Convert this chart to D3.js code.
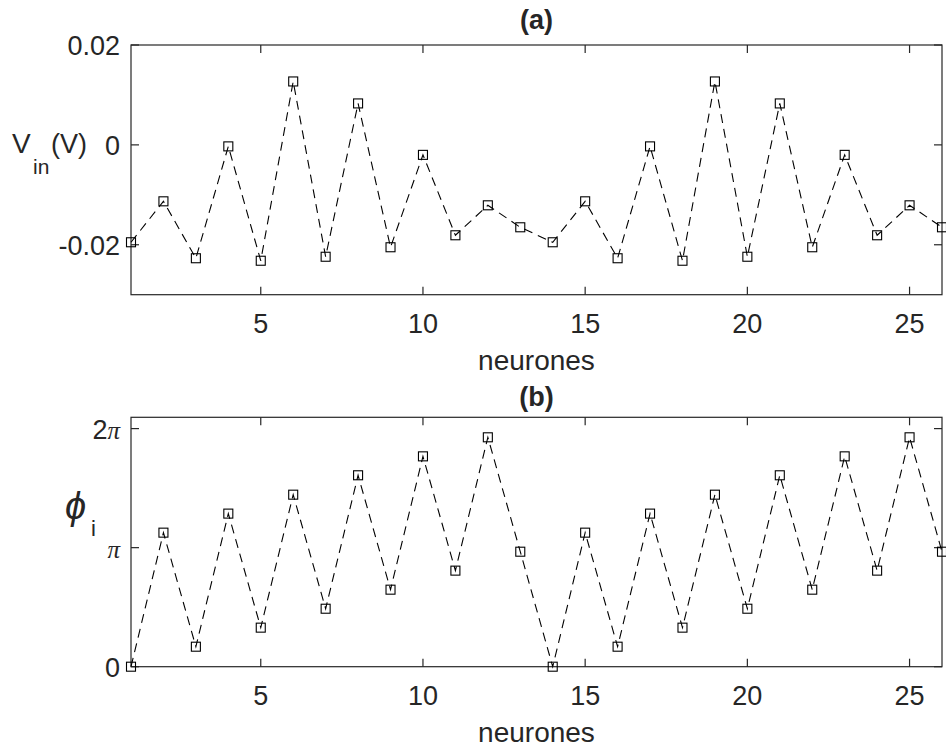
<!DOCTYPE html>
<html>
<head>
<meta charset="utf-8">
<script src="https://cdn.jsdelivr.net/npm/d3@7"></script>
<style>
  html, body { margin: 0; padding: 0; background: #fff; }
  svg { display: block; }
  text { font-family: "Liberation Sans", Arial, sans-serif; fill: #262626; }
</style>
</head>
<body>
<svg id="chart" width="946" height="748"></svg>
<script>
// ---- data ----
const neurons = [1,2,3,4,5,6,7,8,9,10,11,12,13,14,15,16,17,18,19,20,21,22,23,24,25,26];
const vin = [-0.0195,-0.0113,-0.0227,-0.0003,-0.0232,0.0127,-0.0224,0.0083,-0.0205,-0.0020,-0.0181,-0.0121,-0.0165,
             -0.0195,-0.0113,-0.0227,-0.0003,-0.0232,0.0127,-0.0224,0.0083,-0.0205,-0.0020,-0.0181,-0.0121,-0.0165];
// phases in units of pi
const phiPi = [0.00,1.126,0.168,1.286,0.328,1.445,0.487,1.608,0.647,1.767,0.807,1.927,0.966,
               0.00,1.126,0.168,1.286,0.328,1.445,0.487,1.608,0.647,1.767,0.807,1.927,0.966];
const xTicks = [5,10,15,20,25];
const vinTicks = [-0.02,0,0.02];
const vinTickLabels = ["-0.02","0","0.02"];
const phiTicks = [0,1,2];
const phiTickLabels = [["0",""],["","π"],["2","π"]];
const titles = ["(a)","(b)"];
const xLabel = "neurones";

// ---- layout ----
const svg = d3.select("#chart");
const L = 131, R = 942;
const panels = [
  {top: 45, bottom: 294.7, domain: [-0.03, 0.02], vals: vin, titleY: 29},
  {top: 417.3, bottom: 666.7, domain: [0, 2.095], vals: phiPi, titleY: 405.5}
];
const axisColor = "#262626";
const tickLen = 8;
const fs = 27;

const x = d3.scaleLinear().domain([1, 26]).range([L, R]);

panels.forEach((p, pi) => {
  const y = d3.scaleLinear().domain(p.domain).range([p.bottom, p.top]);
  const g = svg.append("g");

  // box
  g.append("rect").attr("x", L).attr("y", p.top).attr("width", R - L).attr("height", p.bottom - p.top)
    .attr("fill", "none").attr("stroke", axisColor).attr("stroke-width", 1.2);

  // x ticks (bottom and top, inward)
  xTicks.forEach(t => {
    g.append("line").attr("x1", x(t)).attr("x2", x(t)).attr("y1", p.bottom).attr("y2", p.bottom - tickLen)
      .attr("stroke", axisColor).attr("stroke-width", 1.2);
    g.append("line").attr("x1", x(t)).attr("x2", x(t)).attr("y1", p.top).attr("y2", p.top + tickLen)
      .attr("stroke", axisColor).attr("stroke-width", 1.2);
    g.append("text").attr("x", x(t)).attr("y", p.bottom + 38).attr("text-anchor", "middle")
      .attr("font-size", fs).text(t);
  });

  // y ticks
  const yt = pi === 0 ? vinTicks : phiTicks;
  yt.forEach((t, i) => {
    g.append("line").attr("x1", L).attr("x2", L + tickLen).attr("y1", y(t)).attr("y2", y(t))
      .attr("stroke", axisColor).attr("stroke-width", 1.2);
    g.append("line").attr("x1", R).attr("x2", R - tickLen).attr("y1", y(t)).attr("y2", y(t))
      .attr("stroke", axisColor).attr("stroke-width", 1.2);
    const tx = g.append("text").attr("x", 120).attr("y", y(t) + 10).attr("text-anchor", "end")
      .attr("font-size", fs);
    if (pi === 0) {
      tx.text(vinTickLabels[i]);
    } else {
      const lab = phiTickLabels[i];
      if (lab[0]) tx.append("tspan").text(lab[0]);
      if (lab[1]) tx.append("tspan").attr("font-family", "'Liberation Serif', serif")
        .attr("font-style", "italic").attr("font-size", 25).text(lab[1]);
    }
  });

  // title
  g.append("text").attr("x", (L + R) / 2).attr("y", p.titleY).attr("text-anchor", "middle")
    .attr("font-size", 27).attr("font-weight", "bold").attr("fill", "#000").text(titles[pi]);

  // x label
  g.append("text").attr("x", (L + R) / 2).attr("y", p.bottom + 75).attr("text-anchor", "middle")
    .attr("font-size", 28).text(xLabel);

  // data line
  const line = d3.line().x((d, i) => x(neurons[i])).y(d => y(d));
  g.append("path").datum(p.vals).attr("d", line).attr("fill", "none")
    .attr("stroke", "#000").attr("stroke-width", 1.1).attr("stroke-dasharray", "9,6");

  // markers
  g.selectAll("rect.m").data(p.vals).enter().append("rect").attr("class", "m")
    .attr("x", (d, i) => x(neurons[i]) - 4.5).attr("y", d => y(d) - 4.5)
    .attr("width", 9).attr("height", 9).attr("fill", "none")
    .attr("stroke", "#000").attr("stroke-width", 1.1);
});

// y labels
svg.append("text").attr("x", 12).attr("y", 152.7).attr("font-size", 28).text("V");
svg.append("text").attr("x", 33).attr("y", 174).attr("font-size", 21).text("in");
svg.append("text").attr("x", 51).attr("y", 152.7).attr("font-size", 27).text("(V)");

svg.append("text").attr("x", 65).attr("y", 519).attr("font-size", 38)
  .attr("font-family", "'Liberation Serif', serif").attr("font-style", "italic").attr("fill", "#404040").text("ϕ");
svg.append("text").attr("x", 91).attr("y", 535.7).attr("font-size", 22).text("i");
</script>
</body>
</html>
